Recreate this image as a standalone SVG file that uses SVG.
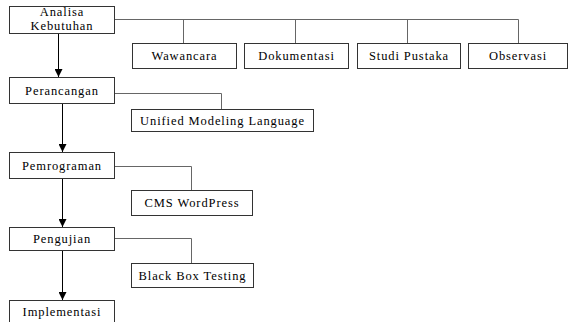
<svg xmlns="http://www.w3.org/2000/svg" width="569" height="322" viewBox="0 0 569 322">
<defs>
<marker id="ah" markerWidth="8" markerHeight="8" refX="8" refY="4" orient="auto" markerUnits="userSpaceOnUse">
<path d="M0,0 L8,4 L0,8 Z" fill="#000"/>
</marker>
<style>
.box{fill:#fff;stroke:#333;stroke-width:1}
.t{font-family:'Liberation Serif','DejaVu Serif',serif;font-size:12.5px;letter-spacing:0.9px;fill:#000;text-anchor:middle}
.ln{fill:none;stroke:#666;stroke-width:1}
.ar{fill:none;stroke:#000;stroke-width:1;marker-end:url(#ah)}
</style>
</defs>
<rect width="569" height="322" fill="#fff"/>
<g id="connectors">
<path class="ln" d="M115,19.5 H518.5 M183.5,19.5 V43 M295.5,19.5 V43 M407.5,19.5 V43 M518.5,19.5 V43"/>
<path class="ln" d="M114,93.5 H221.5 V109"/>
<path class="ln" d="M114,166.5 H191.5 V190"/>
<path class="ln" d="M114,238.5 H191.5 V263"/>
<path class="ar" d="M58.5,33 V77"/>
<path class="ar" d="M62.5,104 V152"/>
<path class="ar" d="M62.5,178 V227"/>
<path class="ar" d="M62.5,250 V300"/>
</g>
<g id="analisa"><rect class="box" x="9.5" y="6.5" width="105" height="27"/><text class="t" x="62" y="16" font-size="12">Analisa</text><text class="t" x="62" y="29.5" font-size="12">Kebutuhan</text></g>
<g id="wawancara"><rect class="box" x="132.5" y="43.5" width="104" height="25"/><text class="t" x="184.5" y="60">Wawancara</text></g>
<g id="dokumentasi"><rect class="box" x="244.5" y="43.5" width="104" height="25"/><text class="t" x="296.5" y="60">Dokumentasi</text></g>
<g id="studi"><rect class="box" x="357.5" y="43.5" width="103" height="25"/><text class="t" x="409" y="60">Studi Pustaka</text></g>
<g id="observasi"><rect class="box" x="468.5" y="43.5" width="99" height="25"/><text class="t" x="518" y="60">Observasi</text></g>
<g id="perancangan"><rect class="box" x="9.5" y="77.5" width="105" height="26"/><text class="t" x="62" y="95">Perancangan</text></g>
<g id="uml"><rect class="box" x="131.5" y="109.5" width="182" height="22"/><text class="t" x="222.5" y="125">Unified Modeling Language</text></g>
<g id="pemrograman"><rect class="box" x="9.5" y="152.5" width="105" height="26"/><text class="t" x="62" y="170">Pemrograman</text></g>
<g id="cms"><rect class="box" x="131.5" y="190.5" width="121" height="25"/><text class="t" x="192" y="207">CMS WordPress</text></g>
<g id="pengujian"><rect class="box" x="9.5" y="227.5" width="105" height="23"/><text class="t" x="62" y="243">Pengujian</text></g>
<g id="blackbox"><rect class="box" x="131.5" y="263.5" width="122" height="24"/><text class="t" x="192.5" y="280">Black Box Testing</text></g>
<g id="implementasi"><rect class="box" x="9.5" y="300.5" width="105" height="30"/><text class="t" x="62" y="316">Implementasi</text></g>
</svg>
